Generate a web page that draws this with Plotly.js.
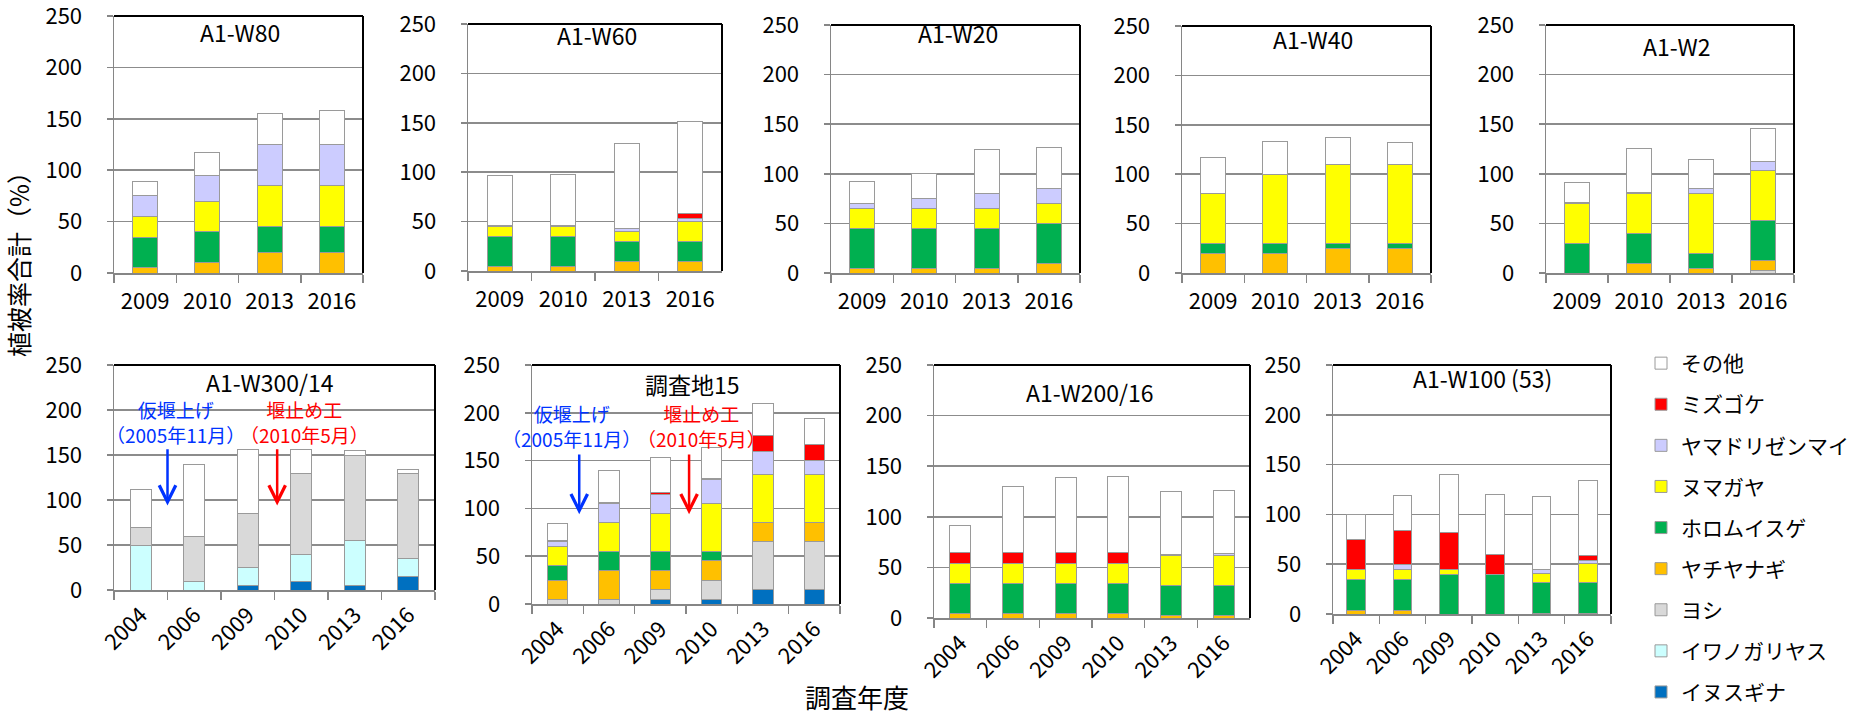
<!DOCTYPE html>
<html>
<head>
<meta charset="utf-8">
<script src="https://cdn.plot.ly/plotly-3.0.1.min.js"></script>
<style>
  html, body { margin: 0; padding: 0; background: #fff; }
  #chart { width: 1874px; height: 714px; }
</style>
</head>
<body>
<div id="chart"></div>
<script>
// Species, bottom of stack first
const speciesNames = ['イヌスギナ', 'イワノガリヤス', 'ヨシ', 'ヤチヤナギ', 'ホロムイスゲ', 'ヌマガヤ', 'ヤマドリゼンマイ', 'ミズゴケ', 'その他'];
const speciesColors = ['#0070C0', '#CCFFFF', '#D9D9D9', '#FFC000', '#00B050', '#FFFF00', '#CCCCFF', '#FF0000', '#FFFFFF'];

const yearsShort = ['2009', '2010', '2013', '2016'];
const yearsLong = ['2004', '2006', '2009', '2010', '2013', '2016'];

// Cover (%) per species; rows follow speciesNames, columns follow the years
const coverW80 = [
  [0, 0, 0, 0],
  [0, 0, 0, 0],
  [0, 0, 0, 0],
  [5, 10, 20, 20],
  [30, 30, 25, 25],
  [20, 30, 40, 40],
  [20, 25, 40, 40],
  [0, 0, 0, 0],
  [14, 22, 30, 33]
];
const coverW60 = [
  [0, 0, 0, 0],
  [0, 0, 0, 0],
  [0, 0, 0, 0],
  [5, 5, 10, 10],
  [30, 30, 20, 20],
  [10, 10, 10, 20],
  [1, 1, 3, 3],
  [0, 0, 0, 5],
  [51, 52, 86, 93]
];
const coverW20 = [
  [0, 0, 0, 0],
  [0, 0, 0, 0],
  [0, 0, 0, 0],
  [5, 5, 5, 10],
  [40, 40, 40, 40],
  [20, 20, 20, 20],
  [5, 10, 15, 15],
  [0, 0, 0, 0],
  [22, 25, 44, 42]
];
const coverW40 = [
  [0, 0, 0, 0],
  [0, 0, 0, 0],
  [0, 0, 0, 0],
  [20, 20, 25, 25],
  [10, 10, 5, 5],
  [50, 70, 80, 80],
  [0, 0, 0, 0],
  [0, 0, 0, 0],
  [37, 33, 27, 22]
];
const coverW2 = [
  [0, 0, 0, 0],
  [0, 0, 0, 0],
  [0, 0, 0, 3],
  [0, 10, 5, 10],
  [30, 30, 15, 40],
  [40, 40, 60, 50],
  [1, 1, 5, 9],
  [0, 0, 0, 0],
  [20, 45, 29, 34]
];
const coverW300 = [
  [0, 0, 5, 10, 5, 15],
  [50, 10, 20, 30, 50, 20],
  [20, 50, 60, 90, 95, 95],
  [0, 0, 0, 0, 0, 0],
  [0, 0, 0, 0, 0, 0],
  [0, 0, 0, 0, 0, 0],
  [0, 0, 0, 0, 0, 0],
  [0, 0, 0, 0, 0, 0],
  [42, 80, 71, 26, 5, 4]
];
const coverSite15 = [
  [0, 0, 5, 5, 15, 15],
  [0, 0, 0, 0, 0, 0],
  [5, 5, 10, 20, 50, 50],
  [20, 30, 20, 20, 20, 20],
  [15, 20, 20, 10, 0, 0],
  [20, 30, 40, 50, 50, 50],
  [5, 20, 20, 25, 25, 15],
  [1.5, 1.5, 1.5, 1.5, 16, 17],
  [17.5, 33.5, 36.5, 32.5, 34, 27]
];
const coverW200 = [
  [0, 0, 0, 0, 0, 0],
  [0, 0, 0, 0, 0, 0],
  [0, 0, 0, 0, 0, 0],
  [4, 4, 4, 4, 2, 2],
  [30, 30, 30, 30, 30, 30],
  [20, 20, 20, 20, 30, 30],
  [0, 0, 0, 0, 1, 2],
  [11, 11, 11, 11, 0, 0],
  [26, 65, 74, 75, 62, 62]
];
const coverW100 = [
  [0, 0, 0, 0, 0, 0],
  [0, 0, 0, 0, 0, 0],
  [0, 0, 0, 0, 0, 0],
  [4, 4, 0, 0, 1, 1],
  [31, 31, 40, 40, 31, 31],
  [10, 10, 5, 0, 9, 19],
  [0, 5, 0, 0, 4, 3],
  [30, 34, 37, 20, 0, 5],
  [25, 35, 58, 60, 73, 75]
];

const W = 1874, H = 714;
const FONT = 'Noto Sans CJK JP, Noto Sans, sans-serif';
const fx = p => p / W;
const fy = p => 1 - p / H;

// Panel frames in pixels: [left, right, top, bottom], plus title centre
const panels = [
  { title: 'A1-W80', years: yearsShort, cover: coverW80, frame: [114, 363, 16, 273], tpos: [240, 32], rot: 0 },
  { title: 'A1-W60', years: yearsShort, cover: coverW60, frame: [468, 722, 24, 271], tpos: [597, 35], rot: 0 },
  { title: 'A1-W20', years: yearsShort, cover: coverW20, frame: [831, 1080, 25, 273], tpos: [958, 33], rot: 0 },
  { title: 'A1-W40', years: yearsShort, cover: coverW40, frame: [1182, 1431, 26, 273], tpos: [1313, 39], rot: 0 },
  { title: 'A1-W2', years: yearsShort, cover: coverW2, frame: [1546, 1794, 25, 273], tpos: [1676, 46], rot: 0 },
  { title: 'A1-W300/14', years: yearsLong, cover: coverW300, frame: [114, 435, 365, 590], tpos: [270, 382], rot: -45 },
  { title: '調査地15', years: yearsLong, cover: coverSite15, frame: [532, 840, 365, 604], tpos: [692, 384], rot: -45 },
  { title: 'A1-W200/16', years: yearsLong, cover: coverW200, frame: [934, 1250, 365, 618], tpos: [1090, 392], rot: -45 },
  { title: 'A1-W100 (53)', years: yearsLong, cover: coverW100, frame: [1333, 1611, 365, 614], tpos: [1482, 378], rot: -45 }
];

const AXIS_GRAY = '#868686';
const traces = [];
const layout = {
  width: W, height: H,
  margin: { l: 0, r: 0, t: 0, b: 0, autoexpand: false },
  paper_bgcolor: '#fff', plot_bgcolor: '#fff',
  barmode: 'stack', bargap: 0.6,
  font: { family: FONT, color: '#000', size: 21 },
  showlegend: true,
  legend: {
    x: fx(1641), xanchor: 'left', y: fy(343), yanchor: 'top',
    traceorder: 'grouped', tracegroupgap: 10.8,
    font: { family: FONT, size: 21, color: '#000' },
    bgcolor: 'rgba(0,0,0,0)', borderwidth: 0, itemwidth: 30
  },
  shapes: [], annotations: []
};

panels.forEach((p, i) => {
  const k = i === 0 ? '' : String(i + 1);
  const xa = 'x' + k, ya = 'y' + k;
  p.cover.forEach((vals, s) => {
    traces.push({
      type: 'bar', x: p.years, y: vals, name: speciesNames[s],
      xaxis: xa, yaxis: ya, legendgroup: speciesNames[s], showlegend: i === 0,
      legendrank: speciesNames.length - s,
      marker: { color: speciesColors[s], line: { color: '#9A9A9A', width: 1 } },
      hoverinfo: 'x+y+name'
    });
  });
  const [l, r, t, b] = p.frame;
  layout['xaxis' + k] = {
    domain: [fx(l), fx(r)], anchor: ya, type: 'category',
    tickson: 'boundaries', ticks: 'outside', ticklen: 8, tickwidth: 1.5, tickcolor: AXIS_GRAY,
    showline: true, linecolor: AXIS_GRAY, linewidth: 1.5, showgrid: false,
    tickangle: p.rot, ticklabelstandoff: p.rot ? 2 : 8, ticklabeloverflow: 'allow',
    tickfont: { family: FONT, size: 22, color: '#000' }, fixedrange: true
  };
  layout['yaxis' + k] = {
    domain: [fy(b), fy(t)], anchor: xa, range: [0, 250], tick0: 0, dtick: 50,
    ticks: 'outside', ticklen: 6, tickwidth: 1.5, tickcolor: AXIS_GRAY,
    showline: true, linecolor: AXIS_GRAY, linewidth: 1.5,
    showgrid: true, gridcolor: '#8C8C8C', gridwidth: 1.5, zeroline: false,
    ticklabelstandoff: 20, ticklabeloverflow: 'allow',
    tickfont: { family: FONT, size: 22, color: '#000' }, fixedrange: true
  };
  // black plot-area border along the top and right
  layout.shapes.push(
    { type: 'line', xref: xa + ' domain', yref: ya + ' domain', x0: 0, x1: 1, y0: 1, y1: 1, line: { color: '#000', width: 2 } },
    { type: 'line', xref: xa + ' domain', yref: ya + ' domain', x0: 1, x1: 1, y0: 0, y1: 1, line: { color: '#000', width: 2 } }
  );
  layout.annotations.push({
    xref: 'paper', yref: 'paper', x: fx(p.tpos[0]), y: fy(p.tpos[1]),
    xanchor: 'center', yanchor: 'middle', showarrow: false,
    text: p.title, font: { family: FONT, size: 23, color: '#000' }
  });
});

// Construction events: temporary weir (Nov 2005) and dam works (May 2010)
const events = [
  { ax: 'x6', ay: 'y6', x: 0.5, color: '#0033FF', label: '仮堰上げ<br>（2005年11月）', tx: 175, ty: 422 },
  { ax: 'x6', ay: 'y6', x: 2.55, color: '#FF0000', label: '堰止め工<br>（2010年5月）', tx: 304, ty: 422 },
  { ax: 'x7', ay: 'y7', x: 0.42, color: '#0033FF', label: '仮堰上げ<br>（2005年11月）', tx: 571, ty: 426 },
  { ax: 'x7', ay: 'y7', x: 2.56, color: '#FF0000', label: '堰止め工<br>（2010年5月）', tx: 701, ty: 426 }
];
events.forEach(e => {
  layout.annotations.push({
    xref: e.ax, yref: e.ay, axref: e.ax, ayref: e.ay,
    x: e.x, y: 94, ax: e.x, ay: 158,
    showarrow: true, arrowhead: 5, arrowsize: 1.3, arrowwidth: 2.5, arrowcolor: e.color,
    text: '', font: { size: 1 }
  });
  layout.annotations.push({
    xref: 'paper', yref: 'paper', x: fx(e.tx), y: fy(e.ty),
    xanchor: 'center', yanchor: 'middle', showarrow: false,
    text: e.label, font: { family: FONT, size: 19, color: e.color }
  });
});

// Shared axis titles
layout.annotations.push(
  { xref: 'paper', yref: 'paper', x: fx(18), y: fy(258), xanchor: 'center', yanchor: 'middle',
    showarrow: false, textangle: -90, text: '植被率合計（%）', font: { family: FONT, size: 25, color: '#000' } },
  { xref: 'paper', yref: 'paper', x: fx(857), y: fy(696), xanchor: 'center', yanchor: 'middle',
    showarrow: false, text: '調査年度', font: { family: FONT, size: 26, color: '#000' } }
);

Plotly.newPlot('chart', traces, layout, { displayModeBar: false, staticPlot: true });
</script>
</body>
</html>
